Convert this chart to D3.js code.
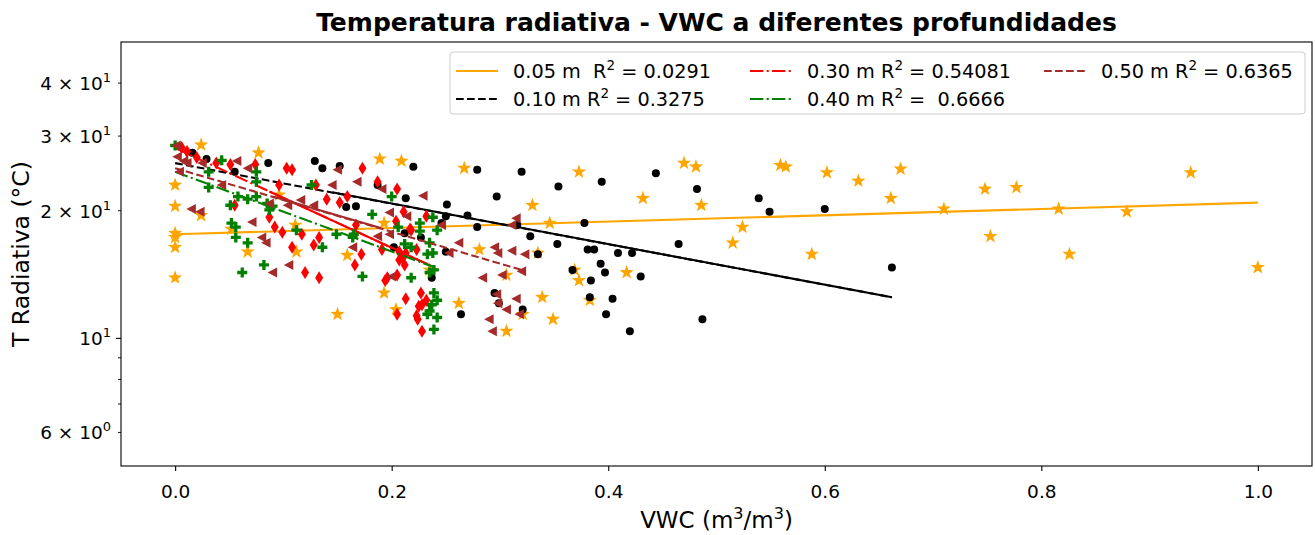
<!DOCTYPE html>
<html>
<head>
<meta charset="utf-8">
<script src="https://cdn.jsdelivr.net/npm/d3@7"></script>
<style>
  body { margin: 0; background: #fff; }
  text { font-family: 'DejaVu Sans', sans-serif; white-space: pre; }
</style>
</head>
<body>
<svg id="chart" width="1315" height="535"></svg>
<script>
// datos (VWC en m3/m3, temperatura en °C)
const vwc05 = [0.024, 0, 0, 0, 0, 0, 0, 0.024, 0.077, 0.067, 0.096, 0.111, 0.052, 0.112, 0.159, 0.150, 0.189, 0.209, 0.267, 0.330, 0.193, 0.346, 0.281, 0.335, 0.306, 0.193, 0.204, 0.262, 0.339, 0.321, 0.306, 0.373, 0.432, 0.470, 0.481, 0.486, 0.524, 0.515, 0.369, 0.373, 0.417, 0.383, 0.349, 0.235, 0.559, 0.564, 0.602, 0.631, 0.670, 0.661, 0.710, 0.748, 0.777, 0.816, 0.879, 0.938, 0.588, 0.753, 0.826, 1.0]
const temp05 = [28.6, 23.0, 20.5, 17.7, 17.3, 16.4, 13.9, 19.5, 27.4, 16.0, 21.8, 18.5, 18.1, 16.0, 15.7, 11.4, 26.5, 26.2, 25.2, 20.6, 18.7, 18.7, 16.2, 15.9, 14.1, 12.8, 11.7, 12.1, 12.5, 11.4, 10.4, 24.7, 21.4, 25.9, 25.4, 20.6, 18.3, 16.8, 14.5, 13.7, 14.3, 12.3, 11.1, 14.5, 25.6, 25.4, 24.6, 23.5, 25.1, 21.4, 20.2, 22.5, 22.7, 20.2, 19.9, 24.6, 15.8, 17.4, 15.8, 14.7]

const vwc10 = [0.016, 0.029, 0.055, 0.086, 0.129, 0.136, 0.152, 0.158, 0.167, 0.220, 0.279, 0.320, 0.187, 0.213, 0.251, 0.297, 0.270, 0.250, 0.246, 0.279, 0.316, 0.328, 0.227, 0.212, 0.202, 0.250, 0.335, 0.237, 0.295, 0.299, 0.321, 0.264, 0.354, 0.394, 0.444, 0.482, 0.378, 0.353, 0.465, 0.381, 0.387, 0.409, 0.422, 0.393, 0.397, 0.367, 0.430, 0.384, 0.383, 0.404, 0.398, 0.420, 0.487, 0.539, 0.549, 0.600, 0.662]
const temp10 = [27.4, 26.5, 24.7, 25.9, 26.2, 25.2, 25.5, 20.4, 20.5, 25.4, 25.0, 24.7, 23.0, 21.4, 20.7, 21.6, 19.5, 19.4, 18.7, 18.3, 18.5, 17.4, 17.3, 17.7, 16.4, 16.0, 15.8, 13.9, 12.8, 12.1, 11.7, 11.4, 22.8, 23.4, 24.5, 22.5, 18.7, 16.7, 16.7, 16.2, 16.2, 15.9, 15.9, 15.0, 14.3, 14.5, 14.0, 13.7, 12.5, 12.4, 11.4, 10.4, 11.1, 21.4, 19.9, 20.2, 14.7]

const vwc30 = [0.006, 0.011, 0.020, 0.038, 0.051, 0.074, 0.055, 0.103, 0.108, 0.130, 0.096, 0.140, 0.152, 0.159, 0.173, 0.187, 0.205, 0.211, 0.232, 0.217, 0.204, 0.167, 0.087, 0.092, 0.099, 0.117, 0.133, 0.108, 0.128, 0.120, 0.133, 0.172, 0.166, 0.194, 0.205, 0.212, 0.207, 0.191, 0.213, 0.223, 0.218, 0.207, 0.210, 0.196, 0.227, 0.213, 0.232, 0.225, 0.223, 0.224, 0.205, 0.228, 0.228]
const temp30 = [28.2, 27.6, 26.7, 25.9, 25.7, 25.7, 20.6, 25.2, 25.0, 23.0, 23.0, 21.3, 20.9, 21.6, 25.2, 23.4, 22.5, 19.9, 19.4, 18.1, 18.9, 18.5, 19.3, 18.3, 17.8, 17.6, 17.3, 16.4, 16.6, 14.3, 13.9, 15.8, 14.9, 13.7, 14.1, 14.9, 15.3, 16.2, 15.9, 16.2, 18.0, 16.0, 15.5, 13.9, 12.8, 12.4, 12.3, 11.9, 11.3, 11.1, 11.4, 10.4, 12.0]

const vwc40 = [0, 0.043, 0.031, 0.075, 0.075, 0.031, 0.058, 0.051, 0.075, 0.087, 0.067, 0.085, 0.126, 0.090, 0.182, 0.149, 0.165, 0.200, 0.226, 0.238, 0.242, 0.206, 0.164, 0.056, 0.052, 0.056, 0.067, 0.112, 0.136, 0.062, 0.082, 0.212, 0.218, 0.238, 0.233, 0.239, 0.235, 0.173, 0.218, 0.239, 0.242, 0.237, 0.235, 0.242, 0.239, 0.233, 0.235, 0.226]
const temp40 = [28.5, 26.3, 24.7, 24.7, 23.4, 22.7, 21.6, 20.6, 21.6, 20.1, 21.3, 20.8, 23.0, 20.5, 19.6, 17.6, 17.6, 21.6, 18.7, 19.3, 18.0, 18.3, 17.3, 18.3, 18.7, 17.3, 16.8, 18.0, 16.4, 14.3, 14.9, 16.7, 16.4, 15.9, 15.8, 14.5, 14.3, 14.0, 13.9, 12.8, 12.3, 12.0, 11.6, 11.2, 10.5, 11.4, 16.8, 17.9]

const vwc50 = [0.001, 0.008, 0.004, 0.002, 0.011, 0.057, 0.067, 0.025, 0.015, 0.023, 0.043, 0.145, 0.150, 0.087, 0.071, 0.104, 0.116, 0.080, 0.128, 0.168, 0.191, 0.229, 0.198, 0.214, 0.246, 0.315, 0.311, 0.187, 0.262, 0.295, 0.164, 0.298, 0.311, 0.323, 0.253, 0.200, 0.284, 0.302, 0.320, 0.297, 0.315, 0.306, 0.318, 0.290, 0.293, 0.298, 0.084, 0.090, 0.105, 0.198]
const temp50 = [28.5, 26.2, 24.7, 26.8, 25.9, 26.2, 25.2, 25.9, 20.2, 19.9, 23.0, 23.0, 25.0, 20.8, 18.8, 20.6, 21.2, 17.3, 20.6, 23.4, 22.5, 21.7, 19.8, 19.4, 18.5, 19.2, 18.5, 17.4, 16.8, 16.4, 16.4, 15.9, 16.1, 15.8, 15.9, 14.0, 13.9, 14.1, 14.4, 12.7, 12.4, 11.7, 11.4, 11.1, 10.4, 12.1, 16.8, 14.3, 14.9, 17.6]

// rectas de ajuste (extremos)
const fitVwc05 = [0, 1.0], fitTemp05 = [17.6, 20.9]
const fitVwc10 = [0, 0.662], fitTemp10 = [25.9, 12.5]
const fitVwc30 = [0, 0.237], fitTemp30 = [28.1, 14.8]
const fitVwc40 = [0, 0.240], fitTemp40 = [24.7, 14.7]
const fitVwc50 = [0, 0.324], fitTemp50 = [25.2, 14.4]
// tramos continuos superpuestos
const solidVwc10 = [0.145, 0.662], solidTemp10 = [22.1, 12.5]
const solidVwc30 = [0.087, 0.237], solidTemp30 = [22.2, 14.8]
const solidVwc50 = [0.09, 0.19], solidTemp50 = [21.6, 18.2]

const labels = ['0.05 m  R', '0.10 m R', '0.30 m R', '0.40 m R', '0.50 m R']
const r2 = [' = 0.0291', ' = 0.3275', ' = 0.54081', ' =  0.6666', ' = 0.6365']
const xTicks = [0, 0.2, 0.4, 0.6, 0.8, 1.0]
const yMajor = [10]
const yMinor = [6, 7, 8, 9, 20, 30, 40]
const yLabelled = { 6: ['6 × 10', '0'], 10: ['10', '1'], 20: ['2 × 10', '1'], 30: ['3 × 10', '1'], 40: ['4 × 10', '1'] }

const W = 1315
const H = 535
const margin = { top: 42, right: 3, bottom: 69, left: 121 }
const svg = d3.select('#chart')

const x = d3.scaleLinear().domain([-0.05, 1.05]).range([margin.left, W - margin.right])
const y = d3.scaleLog().domain([5, 50]).range([H - margin.bottom, margin.top])

const lw = 2.08
const dashed = [3.7 * lw, 1.6 * lw].join(',')
const dashdot = [6.4 * lw, 1.6 * lw, 1 * lw, 1.6 * lw].join(',')
const fs = 18.5

// simbolos
function star(r) {
  const pts = []
  for (let i = 0; i < 10; i++) {
    const rr = i % 2 === 0 ? r : r * 0.4
    const a = -Math.PI / 2 + i * Math.PI / 5
    pts.push([rr * Math.cos(a), rr * Math.sin(a)])
  }
  return 'M' + pts.map(p => p.join(',')).join('L') + 'Z'
}
function circle(r) {
  return `M${-r},0A${r},${r} 0 1,0 ${r},0A${r},${r} 0 1,0 ${-r},0Z`
}
function thinDiamond(w, h) {
  return `M0,${-h}L${w},0L0,${h}L${-w},0Z`
}
function plusFilled(s) {
  const a = s / 3
  return `M${-a},${-s}H${a}V${-a}H${s}V${a}H${a}V${s}H${-a}V${a}H${-s}V${-a}H${-a}Z`
}
function triLeft(s) {
  return `M${-s},0L${s * 0.9},${-s}L${s * 0.9},${s}Z`
}

const series = [
  { xs: vwc05, ys: temp05, color: '#ffa500', marker: star(7.5), fx: fitVwc05, fy: fitTemp05, dash: null },
  { xs: vwc10, ys: temp10, color: '#000000', marker: circle(4), fx: fitVwc10, fy: fitTemp10, dash: dashed, sx: solidVwc10, sy: solidTemp10 },
  { xs: vwc30, ys: temp30, color: '#ff0000', marker: thinDiamond(4, 6.5), fx: fitVwc30, fy: fitTemp30, dash: dashdot, sx: solidVwc30, sy: solidTemp30 },
  { xs: vwc40, ys: temp40, color: '#008000', marker: plusFilled(5), fx: fitVwc40, fy: fitTemp40, dash: dashdot },
  { xs: vwc50, ys: temp50, color: '#a52a2a', marker: triLeft(5), fx: fitVwc50, fy: fitTemp50, dash: dashed, sx: solidVwc50, sy: solidTemp50 }
]

const plot = svg.append('g')
const line = d3.line().x(d => x(d[0])).y(d => y(d[1]))

series.forEach((s) => {
  plot.append('g')
    .selectAll('path')
    .data(d3.zip(s.xs, s.ys))
    .enter()
    .append('path')
    .attr('d', s.marker)
    .attr('fill', s.color)
    .attr('transform', d => `translate(${x(d[0])},${y(d[1])})`)
  plot.append('path')
    .datum(d3.zip(s.fx, s.fy))
    .attr('d', line)
    .attr('fill', 'none')
    .attr('stroke', s.color)
    .attr('stroke-width', lw)
    .attr('stroke-dasharray', s.dash)
  if (s.sx) {
    plot.append('path')
      .datum(d3.zip(s.sx, s.sy))
      .attr('d', line)
      .attr('fill', 'none')
      .attr('stroke', s.color)
      .attr('stroke-width', lw)
  }
})

// ejes
const xAxis = svg.append('g')
  .attr('transform', `translate(0,${H - margin.bottom})`)
  .call(d3.axisBottom(x).tickValues(xTicks).tickFormat(d3.format('.1f')).tickSize(5).tickPadding(14))
xAxis.select('.domain').remove()
xAxis.selectAll('text').attr('font-size', fs).attr('fill', '#000').style('font-family', 'DejaVu Sans')
xAxis.selectAll('line').attr('stroke', '#000').attr('stroke-width', 1.1)

const yAxis = svg.append('g').attr('transform', `translate(${margin.left},0)`)
yAxis.selectAll('.major')
  .data(yMajor)
  .enter()
  .append('line')
  .attr('x1', -5).attr('x2', 0)
  .attr('y1', d => y(d)).attr('y2', d => y(d))
  .attr('stroke', '#000').attr('stroke-width', 1.1)
yAxis.selectAll('.minor')
  .data(yMinor)
  .enter()
  .append('line')
  .attr('x1', -3).attr('x2', 0)
  .attr('y1', d => y(d)).attr('y2', d => y(d))
  .attr('stroke', '#000').attr('stroke-width', 0.9)
Object.keys(yLabelled).forEach((k) => {
  const v = +k
  const t = yAxis.append('text')
    .attr('x', -10)
    .attr('y', y(v) + 7)
    .attr('text-anchor', 'end')
    .attr('font-size', fs)
  t.append('tspan').text(yLabelled[k][0])
  t.append('tspan').attr('dy', -8).attr('font-size', 13).text(yLabelled[k][1])
})

svg.append('rect')
  .attr('x', margin.left).attr('y', margin.top)
  .attr('width', W - margin.left - margin.right)
  .attr('height', H - margin.top - margin.bottom)
  .attr('fill', 'none').attr('stroke', '#000').attr('stroke-width', 1.1)

// titulos
svg.append('text')
  .attr('x', (margin.left + W - margin.right) / 2)
  .attr('y', 31)
  .attr('text-anchor', 'middle')
  .attr('font-size', 25)
  .attr('font-weight', 'bold')
  .text('Temperatura radiativa - VWC a diferentes profundidades')

const xl = svg.append('text')
  .attr('x', (margin.left + W - margin.right) / 2)
  .attr('y', 528)
  .attr('text-anchor', 'middle')
  .attr('font-size', 23)
xl.append('tspan').text('VWC (m')
xl.append('tspan').attr('dy', -9).attr('font-size', 16).text('3')
xl.append('tspan').attr('dy', 9).text('/m')
xl.append('tspan').attr('dy', -9).attr('font-size', 16).text('3')
xl.append('tspan').attr('dy', 9).text(')')

svg.append('text')
  .attr('transform', `translate(29,${(margin.top + H - margin.bottom) / 2}) rotate(-90)`)
  .attr('text-anchor', 'middle')
  .attr('font-size', 23.5)
  .text('T Radiativa (°C)')

// leyenda
const legend = svg.append('g').attr('transform', 'translate(450,52)')
legend.append('rect')
  .attr('width', 855).attr('height', 62).attr('rx', 3)
  .attr('fill', '#fff').attr('fill-opacity', 0.8)
  .attr('stroke', '#cccccc').attr('stroke-width', 1)
const colX = [6, 300, 594]
series.forEach((s, i) => {
  const col = Math.floor(i / 2)
  const row = i % 2
  const g = legend.append('g').attr('transform', `translate(${colX[col]},${19 + row * 28})`)
  g.append('line')
    .attr('x1', 0).attr('x2', 42)
    .attr('stroke', s.color).attr('stroke-width', lw)
    .attr('stroke-dasharray', s.dash)
  const t = g.append('text').attr('x', 57).attr('y', 7).attr('font-size', 19.3)
  t.append('tspan').text(labels[i])
  t.append('tspan').attr('dy', -8).attr('font-size', 13.5).text('2')
  t.append('tspan').attr('dy', 8).text(r2[i])
})
</script>
</body>
</html>
